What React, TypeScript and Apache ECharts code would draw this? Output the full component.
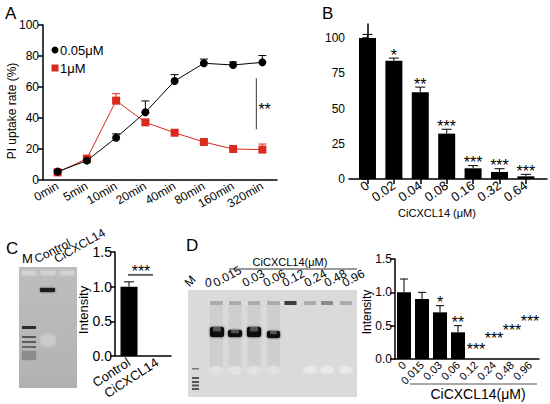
import React, { useEffect, useRef } from 'react';
import * as echarts from 'echarts';

// ---------- data ----------
const timeCats = ['0min', '5min', '10min', '20min', '40min', '80min', '160min', '320min'];
const lowDoseVals = [5.4, 12.5, 27.3, 43.7, 63.9, 75.3, 74.2, 75.9];
const lowDoseErrTop = [6.0, 13.5, 29.8, 51.0, 68.0, 78.0, 76.2, 80.3];
const highDoseVals = [4.9, 13.8, 51.2, 37.2, 30.5, 24.5, 20.0, 19.6];
const highDoseErrTop = [6.9, 15.0, 55.7, 38.5, 31.5, 25.5, 21.0, 23.2];
const aSig = [7, 32.7, 65.6];

const bCats = ['0', '0.02', '0.04', '0.08', '0.16', '0.32', '0.64'];
const bVals = [100, 83.9, 61.6, 32.2, 7.6, 5.0, 1.9];
const bErrTop = [102.6, 85.8, 65.2, 35.3, 9.5, 7.3, 3.3];
const bStars = ['', '*', '**', '***', '***', '***', '***'];
const bYTicks = [0, 25, 50, 75, 100];

const cCats = ['Control', 'CiCXCL14'];
const cVals = [1.0, 0];
const cErrTop = [1.07, 0];
const cSig = [0, 1, 1.17];

const dCats = ['0', '0.015', '0.03', '0.06', '0.12', '0.24', '0.48', '0.96'];
const dVals = [1.0, 0.9, 0.7, 0.4, 0, 0, 0, 0];
const dErrTop = [1.2, 1.0, 0.8, 0.5, 0, 0, 0, 0];
const dStars = ['', '', '*', '**', '***', '***', '***', '***'];
const dStarY = [0, 0, 0.8, 0.5, 0.105, 0.27, 0.39, 0.525];

const RED = '#dc2a1f';
const FONT = 'Liberation Sans, Arial, Helvetica, sans-serif';

function errSeries(xi: number, yi: number, vals: number[], tops: number[], color: string, hw: number) {
  const data = vals.map((v, i) => [i, v, tops[i]]).filter((d) => d[2] > d[1]);
  return {
    type: 'custom', xAxisIndex: xi, yAxisIndex: yi, silent: true, z: 1,
    data,
    renderItem: (params: any, api: any) => {
      const p0 = api.coord([api.value(0), api.value(1)]);
      const p1 = api.coord([api.value(0), api.value(2)]);
      return {
        type: 'group', children: [
          { type: 'line', shape: { x1: p0[0], y1: p0[1], x2: p1[0], y2: p1[1] }, style: { stroke: color, lineWidth: 1 } },
          { type: 'line', shape: { x1: p1[0] - hw, y1: p1[1], x2: p1[0] + hw, y2: p1[1] }, style: { stroke: color, lineWidth: 1 } },
        ],
      };
    },
  };
}

function starSeries(xi: number, yi: number, ys: number[], texts: string[]) {
  const data = ys.map((y, i) => [i, y]).filter((d, i) => texts[i] !== '');
  const tx = data.map((d) => texts[d[0]]);
  return {
    type: 'custom', xAxisIndex: xi, yAxisIndex: yi, silent: true, z: 5,
    data,
    renderItem: (params: any, api: any) => {
      const p = api.coord([api.value(0), api.value(1)]);
      return {
        type: 'text', x: p[0], y: p[1] - 3,
        style: { text: tx[params.dataIndex], fontSize: 16, fontFamily: FONT, fill: '#000', align: 'center', verticalAlign: 'middle' },
      };
    },
  };
}

function txt(x: number, y: number, text: string, fontSize: number, opts: any = {}) {
  const { rotation = 0, align = 'left', verticalAlign = 'middle', fill = '#000' } = opts;
  return {
    type: 'text', x, y, rotation,
    style: { text, fontSize, fontFamily: FONT, fill, align, verticalAlign },
  };
}

function rect(x: number, y: number, w: number, h: number, fill: any, extra: any = {}) {
  return { type: 'rect', shape: { x, y, width: w, height: h, r: extra.r || 0 }, style: { fill, shadowBlur: extra.blur || 0, shadowColor: extra.shadow || 'transparent' } };
}

function buildGraphics() {
  const g: any[] = [];
  // panel letters
  g.push(txt(5, 13, 'A', 17), txt(322, 13, 'B', 17), txt(6, 248, 'C', 17), txt(186, 245, 'D', 17));
  // y names
  g.push(txt(11.5, 111, 'PI uptake rate (%)', 12, { rotation: Math.PI / 2, align: 'center' }));
  g.push(txt(83, 310, 'Intensity', 13, { rotation: Math.PI / 2, align: 'center' }));
  g.push(txt(367, 312, 'Intensity', 12, { rotation: Math.PI / 2, align: 'center' }));
  // legend A
  g.push({ type: 'circle', shape: { cx: 55, cy: 50, r: 3.5 }, style: { fill: '#000' } });
  g.push(txt(60, 50, '0.05μM', 13));
  g.push(rect(51.5, 64.5, 7, 7, RED));
  g.push(txt(60, 68, '1μM', 13));
  // B x name
  g.push(txt(437, 213, 'CiCXCL14 (μM)', 11, { align: 'center' }));

  // ---- gel C ----
  g.push(rect(19, 267, 58, 121, { type: 'linear', x: 0, y: 0, x2: 0, y2: 1, colorStops: [{ offset: 0, color: '#bebebe' }, { offset: 1, color: '#b2b2b2' }] }));
  [22, 41, 60].forEach((x) => g.push(rect(x, 271, 14, 4, '#d2d2d2', { blur: 2, shadow: '#ddd' })));
  g.push({ type: 'ellipse', shape: { cx: 48, cy: 340, rx: 8, ry: 7 }, style: { fill: 'rgba(255,255,255,0.2)', shadowBlur: 6, shadowColor: 'rgba(255,255,255,0.5)' } });
  g.push(rect(40, 288, 15, 4, '#1c1c1c', { blur: 2, shadow: '#333', r: 1 }));
  g.push(rect(22, 326, 14, 3, '#2e2e2e', { blur: 1, shadow: '#444' }));
  g.push(rect(22, 336, 14, 2, '#555'));
  g.push(rect(22, 341, 14, 2, '#5a5a5a'));
  g.push(rect(22, 346, 14, 2, '#666'));
  g.push(rect(22, 351, 14, 9, '#8c8c8c', { blur: 2, shadow: '#999' }));
  g.push(txt(22, 258, 'M', 13));
  g.push(txt(38, 265, 'Control', 12, { rotation: 0.47, verticalAlign: 'bottom' }));
  g.push(txt(58, 265, 'CiCXCL14', 12, { rotation: 0.52, verticalAlign: 'bottom' }));

  // ---- gel D ----
  g.push(rect(188, 290, 169, 107, '#dadada'));
  const lanes = [216.5, 235, 254, 273.5, 290.5, 310, 327, 346];
  lanes.forEach((cx, i) => {
    if (i < 4) g.push(rect(cx - 6.5, 305, 13, 68, 'rgba(180,180,180,0.25)', { blur: 3, shadow: 'rgba(190,190,190,0.4)' }));
  });
  lanes.forEach((cx, i) => {
    const col = i === 4 ? '#3a3a3a' : i === 6 ? '#8a8a8a' : '#ababab';
    g.push(rect(cx - 6, 301, 12, 4, col, { blur: 1, shadow: '#999' }));
  });
  lanes.forEach((cx, i) => {
    if (i !== 4) g.push({ type: 'ellipse', shape: { cx, cy: 370, rx: 7, ry: 4 }, style: { fill: 'rgba(255,255,255,0.3)', shadowBlur: 4, shadowColor: 'rgba(255,255,255,0.6)' } });
  });
  const bands = [[210, 327, 14, 10], [228, 330, 14, 7], [247, 327, 14, 10], [267, 331, 13, 7]];
  bands.forEach((b) => {
    g.push(rect(b[0], b[1], b[2], b[3], '#111', { blur: 2, shadow: '#222', r: 2 }));
    g.push(rect(b[0] + 3, b[1], b[2] - 6, b[3] * 0.45, '#555', { r: 1 }));
  });
  g.push(rect(192, 368, 7, 1.5, '#777'));
  [377, 381, 384.5, 388].forEach((y) => g.push(rect(192, y, 7, 2, '#555')));
  const dLabelX = [191, 205, 217, 246, 267, 286, 308, 328, 346];
  const dLabels = ['M'].concat(dCats);
  dLabels.forEach((t, i) => g.push(txt(dLabelX[i], 289, t, 12, { rotation: i === 0 ? 0.8 : i === 1 ? 0 : 0.5, verticalAlign: 'bottom' })));
  g.push(txt(290, 262, 'CiCXCL14(μM)', 11, { align: 'center' }));
  g.push({ type: 'line', shape: { x1: 229, y1: 269, x2: 357, y2: 269 }, style: { stroke: '#333', lineWidth: 1 } });
  // D bottom bracket
  g.push({ type: 'line', shape: { x1: 410, y1: 384, x2: 537, y2: 384 }, style: { stroke: '#555', lineWidth: 1 } });
  g.push(txt(478, 394, 'CiCXCL14(μM)', 14, { align: 'center' }));
  return g;
}

const axisLine = { lineStyle: { color: '#000', width: 1.5 } };
const axisTick = { length: 5, lineStyle: { color: '#000', width: 1.5 } };
const lbl = (fs: number, extra: any = {}) => ({ color: '#000', fontSize: fs, fontFamily: FONT, ...extra });

export default function App() {
  const ref = useRef<HTMLDivElement>(null);
  useEffect(() => {
    document.body.style.margin = '0';
    const chart = echarts.init(ref.current!, null, { renderer: 'svg' });
    const grids = [
      { left: 43, top: 25, width: 234, height: 155 },
      { left: 349, top: 24, width: 198, height: 155 },
      { left: 115, top: 252, width: 56, height: 104 },
      { left: 395, top: 259, width: 144, height: 100 },
    ].map((g) => ({ ...g, containLabel: false, outerBoundsMode: 'none' }));

    const option: any = {
      animation: false,
      backgroundColor: '#fff',
      textStyle: { fontFamily: FONT },
      grid: grids,
      xAxis: [
        {
          type: 'category', gridIndex: 0, data: timeCats, boundaryGap: true,
          axisLine, axisTick: { ...axisTick, alignWithLabel: true },
          axisLabel: lbl(12, { rotate: 30, interval: 0, margin: 5 }), splitLine: { show: false },
        },
        {
          type: 'value', gridIndex: 1, min: -0.7, max: 6.8,
          axisLine, axisTick: { ...axisTick, customValues: bCats.map((_, i) => i) },
          axisLabel: lbl(13, { rotate: 35, margin: 5, showMinLabel: true, showMaxLabel: true, hideOverlap: false, customValues: bCats.map((_, i) => i), formatter: (v: number) => bCats[Math.round(v)] }),
          splitLine: { show: false },
        },
        {
          type: 'category', gridIndex: 2, data: cCats, boundaryGap: true,
          axisLine, axisTick: { ...axisTick, alignWithLabel: true },
          axisLabel: lbl(13, { rotate: 33, interval: 0, margin: 5 }), splitLine: { show: false },
        },
        {
          type: 'category', gridIndex: 3, data: dCats, boundaryGap: true,
          axisLine, axisTick: { ...axisTick, alignWithLabel: true },
          axisLabel: lbl(11, { rotate: 45, interval: 0, margin: 4 }), splitLine: { show: false },
        },
      ],
      yAxis: [
        { type: 'value', gridIndex: 0, min: 0, max: 100, interval: 20, axisLine: { show: true, ...axisLine }, axisTick: { show: true, ...axisTick }, axisLabel: lbl(12, { margin: 4 }), splitLine: { show: false } },
        {
          type: 'value', gridIndex: 1, min: 0, max: 110, axisLine: { show: true, ...axisLine },
          axisTick: { show: true, ...axisTick, customValues: bYTicks }, axisLabel: lbl(12, { margin: 4, customValues: bYTicks }), splitLine: { show: false },
        },
        { type: 'value', gridIndex: 2, min: 0, max: 1.5, interval: 0.5, axisLine: { show: true, ...axisLine }, axisTick: { show: true, ...axisTick }, axisLabel: lbl(14, { margin: 3, formatter: (v: number) => v.toFixed(1) }), splitLine: { show: false } },
        { type: 'value', gridIndex: 3, min: 0, max: 1.5, interval: 0.5, axisLine: { show: true, ...axisLine }, axisTick: { show: true, ...axisTick }, axisLabel: lbl(12, { margin: 3, formatter: (v: number) => v.toFixed(1) }), splitLine: { show: false } },
      ],
      series: [
        errSeries(0, 0, lowDoseVals, lowDoseErrTop, '#000', 4),
        errSeries(0, 0, highDoseVals, highDoseErrTop, RED, 4),
        {
          name: '1μM', type: 'line', xAxisIndex: 0, yAxisIndex: 0, data: highDoseVals,
          symbol: 'rect', symbolSize: 8, lineStyle: { color: RED, width: 1 }, itemStyle: { color: RED }, z: 3,
        },
        {
          name: '0.05μM', type: 'line', xAxisIndex: 0, yAxisIndex: 0, data: lowDoseVals,
          symbol: 'circle', symbolSize: 8, lineStyle: { color: '#000', width: 1 }, itemStyle: { color: '#000' }, z: 4,
        },
        {
          type: 'custom', xAxisIndex: 0, yAxisIndex: 0, silent: true, data: [aSig],
          renderItem: (params: any, api: any) => {
            const a = api.coord([api.value(0), api.value(1)]);
            const b = api.coord([api.value(0), api.value(2)]);
            const x = a[0] - 6;
            return {
              type: 'group', children: [
                { type: 'line', shape: { x1: x, y1: a[1], x2: x, y2: b[1] }, style: { stroke: '#555', lineWidth: 1.2 } },
                { type: 'text', x: x + 2, y: (a[1] + b[1]) / 2 + 6, style: { text: '**', fontSize: 16, fontFamily: FONT, fill: '#000', align: 'left', verticalAlign: 'middle' } },
              ],
            };
          },
        },
        {
          type: 'bar', xAxisIndex: 1, yAxisIndex: 1, data: bVals.map((v, i) => [i, v]), barWidth: 17,
          itemStyle: { color: '#000' }, z: 2,
        },
        errSeries(1, 1, bVals, bErrTop, '#000', 5),
        starSeries(1, 1, bErrTop, bStars),
        {
          type: 'bar', xAxisIndex: 2, yAxisIndex: 2, data: cVals, barWidth: 17,
          itemStyle: { color: '#000' }, z: 2,
        },
        errSeries(2, 2, cVals, cErrTop, '#000', 5),
        {
          type: 'custom', xAxisIndex: 2, yAxisIndex: 2, silent: true, data: [cSig],
          renderItem: (params: any, api: any) => {
            const a = api.coord([api.value(0), api.value(2)]);
            const b = api.coord([api.value(1), api.value(2)]);
            return {
              type: 'group', children: [
                { type: 'line', shape: { x1: a[0] - 1, y1: a[1], x2: b[0] - 4, y2: b[1] }, style: { stroke: '#666', lineWidth: 2 } },
                { type: 'text', x: (a[0] + b[0]) / 2 - 2, y: a[1] - 3, style: { text: '***', fontSize: 16, fontFamily: FONT, fill: '#000', align: 'center', verticalAlign: 'middle' } },
              ],
            };
          },
        },
        {
          type: 'bar', xAxisIndex: 3, yAxisIndex: 3, data: dVals, barWidth: 14,
          itemStyle: { color: '#000' }, z: 2,
        },
        errSeries(3, 3, dVals, dErrTop, '#000', 4),
        starSeries(3, 3, dStarY, dStars),
      ],
      graphic: buildGraphics(),
    };
    chart.setOption(option);
    return () => chart.dispose();
  }, []);
  return <div ref={ref} style={{ width: 550, height: 404 }} />;
}
